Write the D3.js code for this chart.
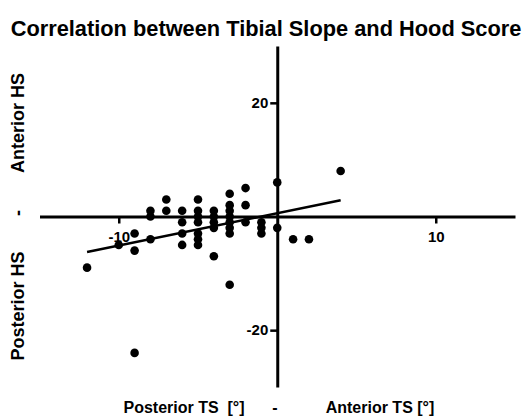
<!DOCTYPE html>
<html>
<head>
<meta charset="utf-8">
<script src="https://cdn.jsdelivr.net/npm/d3@7"></script>
<style>
  html, body { margin: 0; padding: 0; background: #fff; }
  svg { display: block; }
  text { font-family: "Liberation Sans", Arial, sans-serif; font-weight: bold; fill: #000; }
</style>
</head>
<body>
<svg id="chart" width="529" height="417"></svg>
<script>
// Tibial slope (x, degrees) and Hood score (y) for each case
const tsValues = [-12, -10, -9, -9, -9, -8, -8, -8, -7, -7, -6, -6, -6, -6,
  -5, -5, -5, -5, -5, -5, -5, -4, -4, -4, -4, -4,
  -3, -3, -3, -3, -3, -3, -3, -3, -2, -2, -2, -1, -1, -1, 0, 0, 1, 2, 4];
const hsValues = [-9, -5, -3, -6, -24, 1, 0, -4, 3, 1, 1, -1, -3, -5,
  3, 1, 0, -1, -3, -4, -5, 1, 0, -1, -2, -7,
  4, 2, 1, 0, -1, -2, -3, -12, 5, 2, -1, -1, -2, -3, 6, -2, -4, -4, 8];
// Linear fit
const fitSlope = 0.57;
const fitIntercept = 0.58;
// Axis ticks and labels
const xTicks = [-10, 10];
const yTicks = [-20, 20];
const xDomain = [-15, 15];
const yDomain = [-30, 30];
const titleText = "Correlation between Tibial Slope and Hood Score";
const xTitleParts = ["Posterior TS  [°]", "-", "Anterior TS [°]"];
const yTitleParts = ["Posterior HS", "-", "Anterior HS"];

const svg = d3.select("#chart");
const x = d3.scaleLinear().domain(xDomain).range([39.5, 515]);
const y = d3.scaleLinear().domain(yDomain).range([387, 46]);

const points = tsValues.map((v, i) => ({ x: v, y: hsValues[i] }));

// Axes crossing at origin
const xAxis = svg.append("g")
  .attr("transform", `translate(0,${y(0)})`)
  .call(d3.axisBottom(x).tickValues(xTicks).tickSize(7).tickSizeOuter(0).tickPadding(8).tickFormat(d3.format("d")));
const yAxis = svg.append("g")
  .attr("transform", `translate(${x(0)},0)`)
  .call(d3.axisLeft(y).tickValues(yTicks).tickSize(7).tickSizeOuter(0).tickPadding(2).tickFormat(d3.format("d")));

[xAxis, yAxis].forEach(g => {
  g.select(".domain").attr("stroke", "#000").attr("stroke-width", 3);
  g.selectAll(".tick line").attr("stroke", "#000").attr("stroke-width", 2.5);
  g.selectAll(".tick text")
    .attr("font-family", "Liberation Sans, Arial, sans-serif")
    .attr("font-weight", "bold")
    .attr("font-size", 15)
    .attr("fill", "#000");
});
xAxis.selectAll(".tick text").text(d => d3.format("d")(d).replace("−", "-"));
yAxis.selectAll(".tick text").text(d => d3.format("d")(d).replace("−", "-"));

// Points
svg.append("g").selectAll("circle")
  .data(points)
  .join("circle")
  .attr("cx", d => x(d.x))
  .attr("cy", d => y(d.y))
  .attr("r", 4.3)
  .attr("fill", "#000");

// Regression line over data extent
const xExt = d3.extent(tsValues);
svg.append("line")
  .attr("x1", x(xExt[0])).attr("y1", y(fitSlope * xExt[0] + fitIntercept))
  .attr("x2", x(xExt[1])).attr("y2", y(fitSlope * xExt[1] + fitIntercept))
  .attr("stroke", "#000").attr("stroke-width", 2.5);

// Title
svg.append("text")
  .attr("x", 266).attr("y", 36)
  .attr("text-anchor", "middle")
  .attr("font-size", 21.8)
  .text(titleText);

// X-axis title
const xTitleX = [184, 275, 380];
xTitleParts.forEach((t, i) => {
  svg.append("text")
    .attr("x", xTitleX[i]).attr("y", 413)
    .attr("text-anchor", "middle")
    .attr("font-size", 16)
    .attr("xml:space", "preserve")
    .style("white-space", "pre")
    .text(t);
});

// Y-axis title
const yTitleY = [306, 213, 123];
yTitleParts.forEach((t, i) => {
  svg.append("text")
    .attr("transform", `translate(24,${yTitleY[i]}) rotate(-90)`)
    .attr("text-anchor", "middle")
    .attr("font-size", 18)
    .text(t);
});
</script>
</body>
</html>
